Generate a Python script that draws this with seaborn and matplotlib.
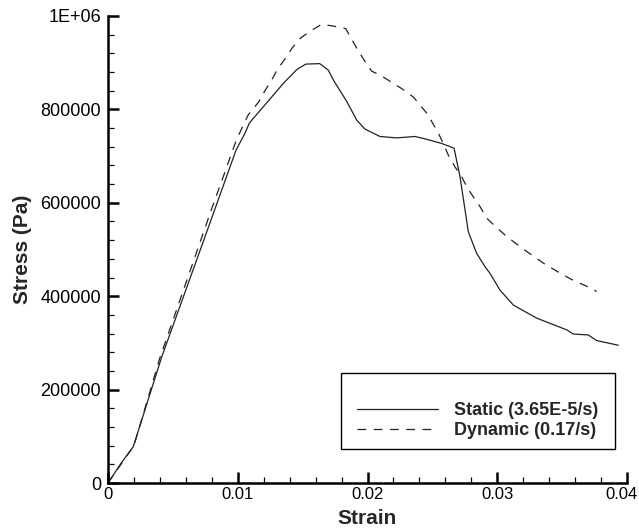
import numpy as np
import pandas as pd
import matplotlib
matplotlib.use('Agg')
import matplotlib.pyplot as plt
import seaborn as sns
from matplotlib.patches import Rectangle
from matplotlib.ticker import AutoMinorLocator
from matplotlib.transforms import ScaledTranslation

# Static test (3.65E-5/s)
static_strain = [0, 0.001, 0.00195, 0.003, 0.00414, 0.00606, 0.00786, 0.00987, 0.01056,
                 0.0109, 0.01232, 0.01352, 0.01458, 0.01525, 0.01632, 0.01698, 0.01739,
                 0.0184, 0.01917, 0.0198, 0.02096, 0.02225, 0.02366, 0.02456, 0.02572,
                 0.02667, 0.02713, 0.02777, 0.02841, 0.02906, 0.02944, 0.03021, 0.03124,
                 0.03304, 0.03535, 0.03586, 0.03702, 0.03766, 0.03933]
static_stress = [0, 42000, 78000, 170000, 270000, 418000, 557000, 713000, 749000,
                 771000, 817000, 856000, 886000, 897000, 898000, 884000, 862000,
                 817000, 777000, 758000, 742000, 739000, 742000, 736000, 727000,
                 717000, 656000, 538000, 492000, 463000, 449000, 413000, 381000,
                 353000, 328000, 319000, 317000, 305000, 295000]

# Dynamic test (0.17/s)
dynamic_strain = [0, 0.002, 0.004, 0.005, 0.006, 0.007, 0.008, 0.009, 0.0099, 0.0108,
                  0.01164, 0.01205, 0.01264, 0.01306, 0.01364, 0.01418, 0.01485, 0.01551,
                  0.01645, 0.01725, 0.01832, 0.01877, 0.01925, 0.01978, 0.02032, 0.02112,
                  0.02192, 0.02272, 0.02351, 0.02392, 0.02456, 0.02495, 0.02546, 0.02584,
                  0.02623, 0.02674, 0.02726, 0.02765, 0.02815, 0.02867, 0.02919, 0.02983,
                  0.0306, 0.03124, 0.032, 0.03277, 0.0336, 0.03432, 0.03517, 0.036,
                  0.03684, 0.03766]
dynamic_stress = [0, 80000, 268000, 348000, 428000, 508000, 588000, 665000, 735000, 788000,
                  817000, 838000, 864000, 886000, 908000, 931000, 953000, 966000,
                  982000, 979000, 973000, 951000, 927000, 904000, 882000, 871000,
                  857000, 843000, 827000, 814000, 792000, 774000, 749000, 727000,
                  702000, 677000, 656000, 634000, 613000, 592000, 567000, 550000,
                  531000, 517000, 501000, 486000, 470000, 458000, 444000, 432000,
                  422000, 410000]

y_ticks = [0, 200000, 400000, 600000, 800000, 1000000]
y_tick_labels = ['0', '200000', '400000', '600000', '800000', '1E+06']
x_ticks = [0, 0.01, 0.02, 0.03, 0.04]
x_tick_labels = ['0', '0.01', '0.02', '0.03', '0.04']

sns.set_style('ticks')
plt.rcParams['font.family'] = ['Liberation Sans', 'DejaVu Sans']

fig = plt.figure(figsize=(6.39, 5.29), dpi=100, facecolor='white')
ax = fig.add_axes([108 / 639, 46 / 529, 519 / 639, 467 / 529])

df_static = pd.DataFrame({'strain': static_strain, 'stress': static_stress})
df_dynamic = pd.DataFrame({'strain': dynamic_strain, 'stress': dynamic_stress})

sns.lineplot(data=df_static, x='strain', y='stress', ax=ax, sort=False,
             color='#222222', linewidth=0.9, label='Static (3.65E-5/s)')
sns.lineplot(data=df_dynamic, x='strain', y='stress', ax=ax, sort=False,
             color='#222222', linewidth=0.9, label='Dynamic (0.17/s)')
ax.lines[1].set_dashes((7, 6))

ax.set_xlim(0, 0.04)
ax.set_ylim(0, 1000000)
ax.set_xticks(x_ticks)
ax.set_xticklabels(x_tick_labels)
ax.set_yticks(y_ticks)
ax.set_yticklabels(y_tick_labels)
ax.xaxis.set_minor_locator(AutoMinorLocator(5))
ax.yaxis.set_minor_locator(AutoMinorLocator(5))

ax.tick_params(which='major', direction='in', length=8, width=1.8, colors='black')
ax.tick_params(axis='y', which='major', labelsize=13, pad=5)
ax.tick_params(axis='x', which='major', labelsize=12, pad=3)
ax.tick_params(which='minor', direction='in', length=4, width=0.9, colors='black')

# nudge the last x label so it stays inside the figure
last = ax.get_xticklabels()[-1]
last.set_transform(last.get_transform() + ScaledTranslation(-4 / 72, 0, fig.dpi_scale_trans))

sns.despine(ax=ax)
for side in ['left', 'bottom']:
    ax.spines[side].set_linewidth(1.8)
    ax.spines[side].set_color('black')

ax.set_xlabel('Strain', fontsize=15, fontweight='bold', labelpad=5)
ax.set_ylabel('Stress (Pa)', fontsize=15, fontweight='bold', labelpad=6)

# legend box, taller than the two entries
x0 = (341 - 108) / 519
y0 = (483 - 449) / 467
w = (615 - 341) / 519
h = (449 - 373) / 467
ax.add_patch(Rectangle((x0, y0), w, h, transform=ax.transAxes, fill=False,
                       edgecolor='black', linewidth=1.0, zorder=4))
ax.legend(loc='lower left', bbox_to_anchor=((357 - 108) / 519, (483 - 439) / 467),
          frameon=False, prop={'weight': 'bold', 'size': 13}, handlelength=4.5,
          handletextpad=0.85, labelspacing=0.15, borderaxespad=0, borderpad=0)

fig.savefig('out.png', dpi=100, facecolor='white')
